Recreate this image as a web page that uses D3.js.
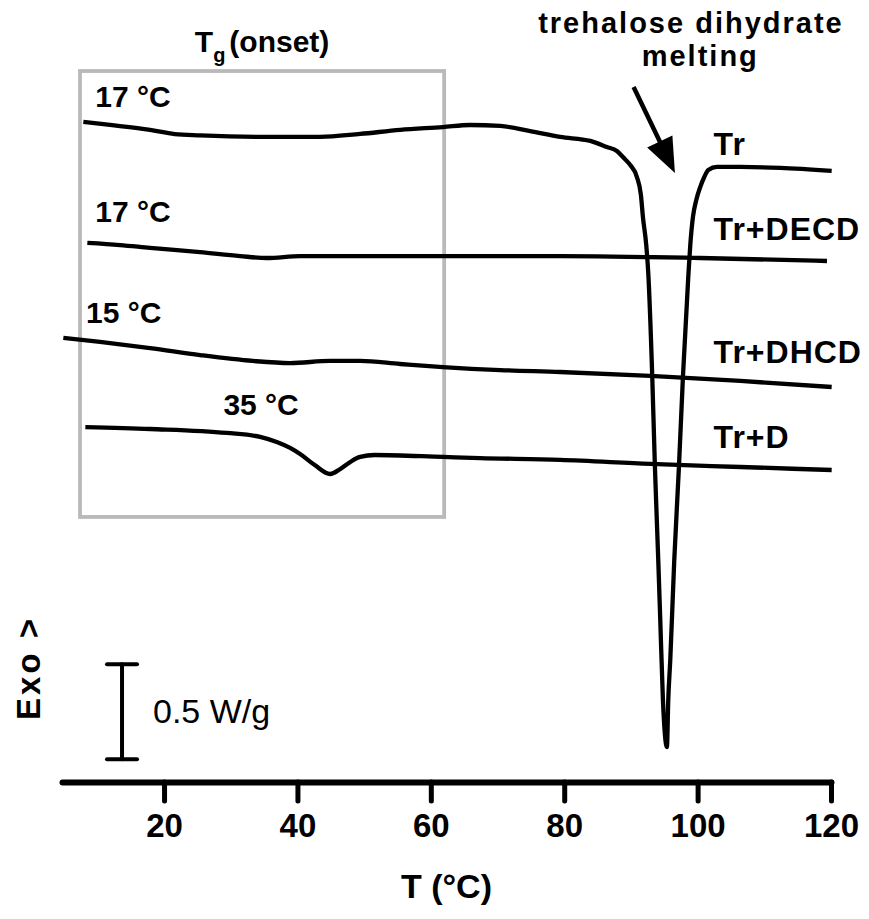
<!DOCTYPE html>
<html>
<head>
<meta charset="utf-8">
<script src="https://cdn.jsdelivr.net/npm/d3@7"></script>
<style>
  html, body { margin: 0; padding: 0; background: #fff; }
  svg { display: block; font-family: "Liberation Sans", Arial, sans-serif; }
</style>
</head>
<body>
<svg id="chart" width="869" height="919"></svg>
<script>
// DSC thermograms (heat flow, W/g, curves offset vertically; exo up)
const tickTemps = [20, 40, 60, 80, 100, 120];

const trT  = [7.9, 11.9, 17.9, 21.6, 25.4, 34.8, 43.4, 49.4, 55.4, 61.8, 65.9, 70.4, 74.9, 79.4, 83.9,
              86.4, 87.9, 88.8, 89.9, 90.9, 91.5, 91.8, 92.3, 92.6, 93.2, 93.6, 94.1, 94.4, 94.8, 95.4,
              95.6, 95.9, 96.5, 97.2, 97.8, 98.6, 98.9, 99.3, 99.8, 100.4, 101.0, 101.6, 102.9, 106.4, 112.4, 120.1];
const trHF = [3.474, 3.458, 3.432, 3.410, 3.403, 3.395, 3.395, 3.411, 3.432, 3.447, 3.458, 3.453, 3.426, 3.395, 3.374,
              3.342, 3.321, 3.289, 3.247, 3.184, 3.089, 2.974, 2.826, 2.679, 2.132, 1.658, 1.168, 0.853, 0.432, 0.184,
              0.432, 0.642, 1.168, 1.658, 2.132, 2.658, 2.826, 2.974, 3.063, 3.132, 3.184, 3.221, 3.237, 3.237, 3.232, 3.216];

const decdT  = [8.5, 13.4, 17.9, 25.4, 31.4, 35.4, 40.4, 49.4, 61.8, 79.4, 100.4, 119.4];
const decdHF = [2.837, 2.826, 2.811, 2.789, 2.768, 2.758, 2.768, 2.768, 2.768, 2.768, 2.758, 2.742];

const dhcdT  = [4.9, 10.4, 17.9, 25.4, 33.3, 38.9, 44.9, 49.4, 55.4, 61.8, 70.4, 79.4, 92.9, 106.4, 120.1];
const dhcdHF = [2.337, 2.316, 2.284, 2.247, 2.216, 2.205, 2.216, 2.216, 2.200, 2.184, 2.168, 2.158, 2.137, 2.111, 2.079];

const dT  = [8.2, 17.9, 29.4, 34.4, 36.9, 38.9, 40.4, 42.6, 44.9, 46.4, 47.9, 49.4, 51.6, 61.8, 67.4, 79.4, 92.9, 106.4, 120.1];
const dHF = [1.868, 1.858, 1.837, 1.816, 1.789, 1.758, 1.726, 1.668, 1.621, 1.647, 1.684, 1.711, 1.721, 1.711, 1.705, 1.695, 1.674, 1.658, 1.642];

const seriesNames = ["Tr", "Tr+DECD", "Tr+DHCD", "Tr+D"];
const onsetLabels = ["17 \u00B0C", "17 \u00B0C", "15 \u00B0C", "35 \u00B0C"];

const svg = d3.select("#chart");

const x = d3.scaleLinear().domain([4.7, 120]).range([62, 831]);
const y = d3.scaleLinear().domain([0, 4]).range([782, 22]);

const series = [
  { name: seriesNames[0], T: trT,   hf: trHF },
  { name: seriesNames[1], T: decdT, hf: decdHF },
  { name: seriesNames[2], T: dhcdT, hf: dhcdHF },
  { name: seriesNames[3], T: dT,    hf: dHF }
];

// Tg(onset) frame
const frame = { t0: 7.4, t1: 62.0, top: 3.742, bottom: 1.395 };
svg.append("rect")
  .attr("x", x(frame.t0)).attr("y", y(frame.top))
  .attr("width", x(frame.t1) - x(frame.t0))
  .attr("height", y(frame.bottom) - y(frame.top))
  .attr("fill", "none").attr("stroke", "#b9b9b9").attr("stroke-width", 3.8);

// curves
const line = d3.line().x(d => x(d[0])).y(d => y(d[1])).curve(d3.curveMonotoneX);
svg.append("g").selectAll("path").data(series).join("path")
  .attr("d", s => line(s.T.map((t, i) => [t, s.hf[i]])))
  .attr("fill", "none").attr("stroke", "#000").attr("stroke-width", 4.3)
  .attr("stroke-linejoin", "round").attr("stroke-linecap", "butt");

// x axis
const xAxis = d3.axisBottom(x).tickValues(tickTemps).tickSize(19).tickSizeOuter(0).tickFormat(d3.format("d"));
const gx = svg.append("g").attr("transform", `translate(0,${y(0)})`).call(xAxis);
gx.select(".domain").attr("stroke", "#000").attr("stroke-width", 6).attr("stroke-linecap", "round");
gx.selectAll(".tick line").attr("stroke", "#000").attr("stroke-width", 5).attr("stroke-linecap", "round");
gx.selectAll(".tick text")
  .attr("y", 55).attr("dy", 0)
  .attr("fill", "#000")
  .style("font-family", "'Liberation Sans', Arial, sans-serif")
  .style("font-size", "33px").style("font-weight", "bold");

svg.append("text")
  .attr("x", (x.range()[0] + x.range()[1]) / 2).attr("y", 898)
  .attr("text-anchor", "middle")
  .style("font-size", "34px").style("font-weight", "bold")
  .text("T (\u00B0C)");

// y label
svg.append("text")
  .attr("transform", "translate(40,668) rotate(-90)")
  .attr("text-anchor", "middle")
  .style("font-size", "33px").style("font-weight", "bold").style("letter-spacing", "3px")
  .text("Exo >");

// scale bar: 0.5 W/g
const barT = 13.7, barBase = 0.12, barSize = 0.5;
const bx = x(barT), by0 = y(barBase), by1 = y(barBase + barSize);
const bar = svg.append("g").attr("stroke", "#000").attr("stroke-width", 4).attr("stroke-linecap", "round");
bar.append("line").attr("x1", bx).attr("x2", bx).attr("y1", by0).attr("y2", by1);
bar.append("line").attr("x1", bx - 15).attr("x2", bx + 15).attr("y1", by0).attr("y2", by0);
bar.append("line").attr("x1", bx - 15).attr("x2", bx + 15).attr("y1", by1).attr("y2", by1);
svg.append("text")
  .attr("x", bx + 31).attr("y", (by0 + by1) / 2 + 11)
  .style("font-size", "34px")
  .text(barSize + " W/g");

// series names at the right end
const nameAt = [[102.4, 3.300], [102.4, 2.853], [102.4, 2.206], [102.4, 1.758]];
svg.append("g").selectAll("text").data(series).join("text")
  .attr("x", (d, i) => x(nameAt[i][0])).attr("y", (d, i) => y(nameAt[i][1]))
  .style("font-size", "32px").style("font-weight", "bold").style("letter-spacing", "1px")
  .text(d => d.name);

// onset temperatures
const onsetAt = [[9.7, 3.553], [9.7, 2.947], [8.3, 2.416], [28.9, 1.932]];
svg.append("g").selectAll("text").data(onsetLabels).join("text")
  .attr("x", (d, i) => x(onsetAt[i][0])).attr("y", (d, i) => y(onsetAt[i][1]))
  .style("font-size", "30px").style("font-weight", "bold")
  .text(d => d);

// frame title: Tg(onset)
const title = svg.append("text")
  .attr("x", (x(frame.t0) + x(frame.t1)) / 2).attr("y", 52)
  .attr("text-anchor", "middle")
  .style("font-size", "30px").style("font-weight", "bold");
title.append("tspan").text("T");
title.append("tspan").attr("dy", 10).style("font-size", "20px").text("g");
title.append("tspan").attr("dy", -10).attr("dx", 4).text("(onset)");

// melting annotation
svg.append("text").attr("x", x(99.0)).attr("y", 33).attr("text-anchor", "middle")
  .style("font-size", "29px").style("font-weight", "bold").style("letter-spacing", "2px")
  .text("trehalose dihydrate");
svg.append("text").attr("x", x(100.4)).attr("y", 66).attr("text-anchor", "middle")
  .style("font-size", "29px").style("font-weight", "bold").style("letter-spacing", "2px")
  .text("melting");

// arrow pointing at the melting endotherm
const arrowFrom = [90.4, 3.658], arrowTo = [96.6, 3.205];
const ax0 = x(arrowFrom[0]), ay0 = y(arrowFrom[1]), ax1 = x(arrowTo[0]), ay1 = y(arrowTo[1]);
const ang = Math.atan2(ay1 - ay0, ax1 - ax0);
const headLen = 35, headHalf = 14;
const hbx = ax1 - headLen * Math.cos(ang), hby = ay1 - headLen * Math.sin(ang);
svg.append("line")
  .attr("x1", ax0).attr("y1", ay0).attr("x2", hbx + 2 * Math.cos(ang)).attr("y2", hby + 2 * Math.sin(ang))
  .attr("stroke", "#000").attr("stroke-width", 4.5);
svg.append("path")
  .attr("d", `M${ax1},${ay1}L${hbx - headHalf * Math.sin(ang)},${hby + headHalf * Math.cos(ang)}L${hbx + headHalf * Math.sin(ang)},${hby - headHalf * Math.cos(ang)}Z`)
  .attr("fill", "#000");
</script>
</body>
</html>
